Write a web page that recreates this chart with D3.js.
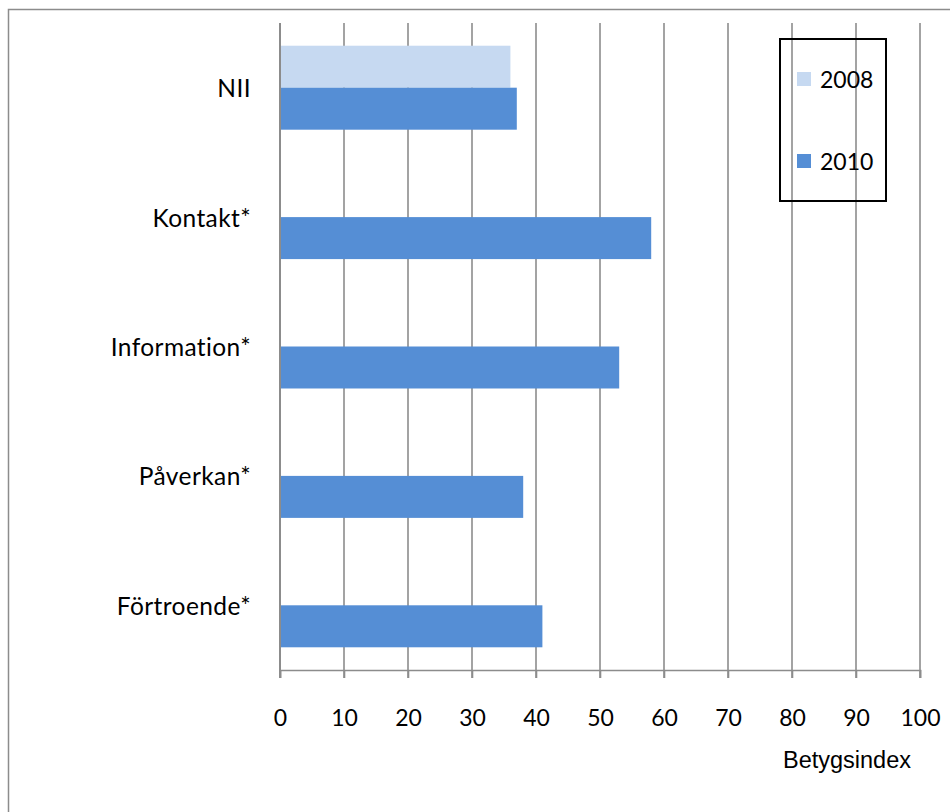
<!DOCTYPE html>
<html><head><meta charset="utf-8">
<script src="https://cdn.jsdelivr.net/npm/d3@7"></script>
<style>body{margin:0;background:#fff}svg{display:block}</style>
</head><body>
<svg id="c" width="950" height="812"></svg>
<script>
const categories = ["NII", "Kontakt*", "Information*", "Påverkan*", "Förtroende*"];
const seriesNames = ["2008", "2010"];
const values2008 = [36, null, null, null, null];
const values2010 = [37, 58, 53, 38, 41];
const xTicks = [0, 10, 20, 30, 40, 50, 60, 70, 80, 90, 100];
const xTitle = "Betygsindex";
const colors = ["#c6d9f1", "#558ed5"];

const svg = d3.select("#c");
const font = "Lato, 'Open Sans', sans-serif";

// outer frame (right/bottom edges fall outside the picture)
svg.append("rect").attr("x", 8.5).attr("y", 9.5).attr("width", 1000).attr("height", 1000)
  .attr("fill", "none").attr("stroke", "#8c8c8c").attr("stroke-width", 1.5);

const x = d3.scaleLinear().domain([0, 100]).range([280, 920]);
const y = d3.scaleBand().domain(categories).range([23, 670]).paddingInner(0.351).paddingOuter(0.1755);
const ys = d3.scaleBand().domain(seriesNames).range([0, y.bandwidth()]);

// gridlines
svg.append("g").selectAll("line").data(xTicks.filter(d => d > 0)).join("line")
  .attr("x1", d => x(d)).attr("x2", d => x(d)).attr("y1", 23).attr("y2", 678)
  .attr("stroke", "#8c8c8c").attr("stroke-width", 1.6);

// bars
const series = [values2008, values2010];
series.forEach((vals, si) => {
  svg.append("g").selectAll("rect")
    .data(categories.map((c, i) => ({c, v: vals[i]})).filter(d => d.v != null))
    .join("rect")
    .attr("x", x(0)).attr("y", d => y(d.c) + ys(seriesNames[si]))
    .attr("width", d => x(d.v) - x(0)).attr("height", ys.bandwidth())
    .attr("fill", colors[si]);
});

// axes
const xAxis = d3.axisBottom(x).tickValues(xTicks).tickSize(8).tickPadding(30);
const gx = svg.append("g").attr("transform", "translate(0,670)").call(xAxis);
gx.select(".domain").attr("stroke", "#8c8c8c").attr("stroke-width", 1.6);
gx.selectAll(".tick line").attr("stroke", "#8c8c8c").attr("stroke-width", 1.6);
gx.selectAll(".tick text").attr("font-family", font).attr("font-size", 23).attr("fill", "#000")
  .attr("dy", "0.32em").attr("y", 49);

svg.append("line").attr("x1", x(0)).attr("x2", x(0)).attr("y1", 23).attr("y2", 678)
  .attr("stroke", "#8c8c8c").attr("stroke-width", 2);

// category labels
svg.append("g").selectAll("text").data(categories).join("text")
  .attr("x", 251).attr("y", d => y(d) + y.bandwidth() / 2)
  .attr("text-anchor", "end").attr("dominant-baseline", "central")
  .attr("font-family", font).attr("font-size", 24.5).attr("letter-spacing", 0.4).attr("fill", "#000")
  .text(d => d);

// axis title
svg.append("text").attr("x", 847).attr("y", 760).attr("text-anchor", "middle")
  .attr("dominant-baseline", "central")
  .attr("font-family", "'Liberation Sans', Arial, sans-serif").attr("font-size", 23.5)
  .attr("fill", "#000").text(xTitle);

// legend
const lg = svg.append("g");
lg.append("rect").attr("x", 780).attr("y", 39).attr("width", 106).attr("height", 162)
  .attr("fill", "none").attr("stroke", "#000").attr("stroke-width", 2);
const legY = [79, 161];
seriesNames.forEach((s, i) => {
  lg.append("rect").attr("x", 797).attr("y", legY[i] - 7).attr("width", 14).attr("height", 14).attr("fill", colors[i]);
  lg.append("text").attr("x", 820).attr("y", legY[i]).attr("dominant-baseline", "central")
    .attr("font-family", font).attr("font-size", 23).attr("fill", "#000").text(s);
});
</script>
</body></html>
